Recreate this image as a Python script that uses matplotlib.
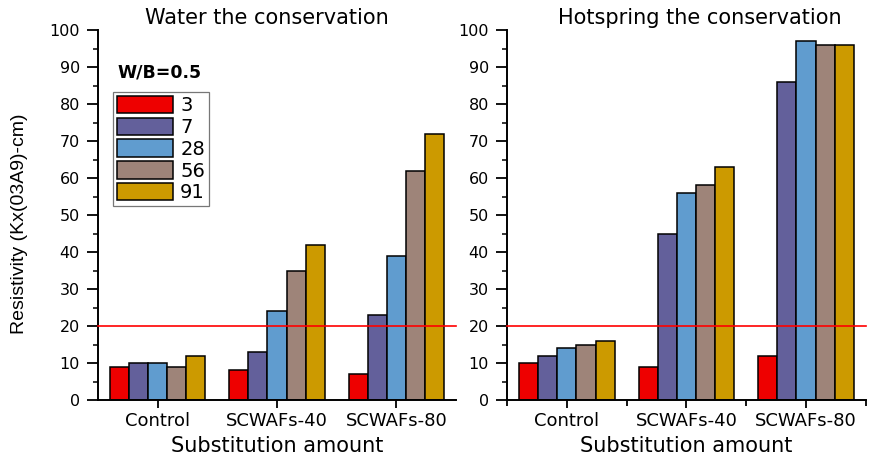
import numpy as np
import matplotlib
matplotlib.use("Agg")
import matplotlib.pyplot as plt
from matplotlib.ticker import MultipleLocator, FixedLocator

plt.rcParams['font.family'] = ['DejaVu Sans']

categories = ['Control', 'SCWAFs-40', 'SCWAFs-80']
ages = ['3', '7', '28', '56', '91']
colors = ['#EE0000', '#63609B', '#609CCF', '#9E8479', '#CC9A00']

# resistivity per curing age, one list per age (Control, SCWAFs-40, SCWAFs-80)
water = {
    '3': [9, 8, 7],
    '7': [10, 13, 23],
    '28': [10, 24, 39],
    '56': [9, 35, 62],
    '91': [12, 42, 72],
}
hotspring = {
    '3': [10, 9, 12],
    '7': [12, 45, 86],
    '28': [14, 56, 97],
    '56': [15, 58, 96],
    '91': [16, 63, 96],
}
threshold = 20

fig = plt.figure(figsize=(8.69, 4.57), dpi=100)
ax1 = fig.add_axes([0.1128, 0.1247, 0.412, 0.8096])
ax2 = fig.add_axes([0.5834, 0.1247, 0.413, 0.8096])

x = np.arange(len(categories))
w = 0.16


def draw_panel(ax, data, title, title_x, minor_x):
    for i, age in enumerate(ages):
        ax.bar(x + (i - 2) * w, data[age], w, color=colors[i],
               edgecolor='black', linewidth=1.1, label=age, zorder=2)
    ax.axhline(threshold, color='red', linewidth=1.2, zorder=3, clip_on=False)
    ax.set_xlim(-0.5, 2.5)
    ax.set_ylim(0, 100)
    ax.set_xticks(x)
    ax.set_xticklabels(categories, fontsize=13)
    if minor_x:
        ax.xaxis.set_minor_locator(FixedLocator([-0.5, 0.5, 1.5, 2.5]))
    ax.yaxis.set_major_locator(MultipleLocator(10))
    ax.yaxis.set_minor_locator(MultipleLocator(5))
    ax.tick_params(axis='y', which='major', length=8, width=1.3, labelsize=11.5, pad=5)
    ax.tick_params(axis='y', which='minor', length=3.8, width=1.1)
    ax.tick_params(axis='x', which='major', length=5.5, width=1.3, pad=3)
    ax.tick_params(axis='x', which='minor', length=4, width=1.3)
    for s in ['top', 'right']:
        ax.spines[s].set_visible(False)
    for s in ['left', 'bottom']:
        ax.spines[s].set_linewidth(1.4)
    ax.set_xlabel('Substitution amount', fontsize=15)
    ax.xaxis.set_label_coords(0.5, -0.098)
    ax.text(title_x, 1.005, title, transform=ax.transAxes, ha='center',
            va='bottom', fontsize=15)


draw_panel(ax1, water, 'Water the conservation', 0.472, False)
draw_panel(ax2, hotspring, 'Hotspring the conservation', 0.538, True)

ax1.set_ylabel('Resistivity (Kx(03A9)-cm)', fontsize=14, family='Liberation Sans')
ax1.yaxis.set_label_coords(-0.196, 0.477)

leg = ax1.legend(loc='upper left', bbox_to_anchor=(0.042, 0.832), fontsize=14,
                 frameon=True, fancybox=False, edgecolor='#555555',
                 handlelength=2.9, handleheight=1.0, handletextpad=0.35,
                 labelspacing=0.12, borderpad=0.2, borderaxespad=0)
leg.get_frame().set_linewidth(0.9)
ax1.text(0.055, 0.86, 'W/B=0.5', transform=ax1.transAxes, fontsize=12.5,
         fontweight='bold', ha='left', va='bottom')

fig.savefig('out.png', dpi=100)
